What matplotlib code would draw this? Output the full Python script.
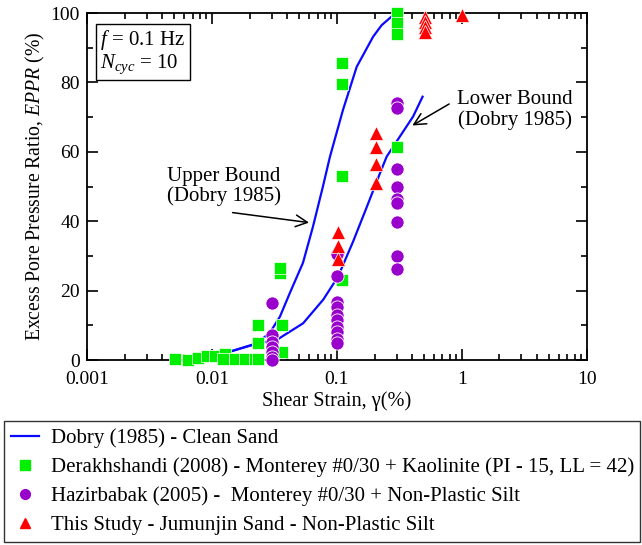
import matplotlib
matplotlib.use('Agg')
import matplotlib.pyplot as plt
from matplotlib.ticker import FixedLocator, NullFormatter, MultipleLocator
from matplotlib.lines import Line2D

plt.rcParams['font.family'] = ['Liberation Serif', 'DejaVu Serif']
plt.rcParams['mathtext.fontset'] = 'custom'
plt.rcParams['mathtext.rm'] = 'Liberation Serif'
plt.rcParams['mathtext.it'] = 'Liberation Serif:italic'
plt.rcParams['font.size'] = 14

# Dobry (1985) bounds
upper_x = [0.0139, 0.0228, 0.029, 0.035, 0.042, 0.0535, 0.0643, 0.0773, 0.088, 0.1117, 0.144, 0.195, 0.228, 0.282, 0.30]
upper_y = [2.4, 4.8, 7.8, 12.5, 19.3, 28, 38.4, 50, 58.6, 72, 84.5, 93.2, 96.5, 99.4, 100]
lower_x = [0.0139, 0.0233, 0.033, 0.0537, 0.0777, 0.102, 0.135, 0.173, 0.221, 0.25, 0.319, 0.4076, 0.485]
lower_y = [2.4, 4.8, 5.8, 10.6, 17.4, 24, 34.2, 44, 53.8, 58.6, 64.4, 70.2, 75.9]

# Derakhshandi (2008)
derak_x = [0.0051, 0.0064, 0.0077, 0.0092, 0.0106, 0.0128, 0.0123, 0.0153, 0.0184, 0.022, 0.0235,
           0.0233, 0.0233, 0.0363, 0.0363, 0.035, 0.035,
           0.109, 0.109, 0.109, 0.109, 0.304, 0.304, 0.304, 0.304]
derak_y = [0.4, 0, 0.7, 1.1, 1.1, 1.7, 0.2, 0.3, 0.3, 0.3, 0.3,
           10, 5, 10, 2.4, 25, 26.5,
           85.5, 79.5, 53, 23, 100, 97, 94, 61.5]

# Hazirbabak (2005)
hazir_x = [0.0304] * 7 + [0.101] * 10 + [0.304] * 9
hazir_y = [16.5, 7.2, 5.3, 3.8, 2.4, 1.0, 0,
           30.5, 24.3, 16.8, 15.4, 13, 11.5, 9.6, 8.2, 6.2, 4.8,
           74, 72.5, 55, 50, 46.4, 45.2, 39.9, 30, 26.1]

# This study
study_x = [0.1026] * 3 + [0.204] * 4 + [0.506] * 4 + [1.0]
study_y = [37, 33, 29, 65.5, 61.5, 56.5, 51, 99, 97.5, 96, 94.5, 99.5]

blue = '#0a0aff'
green = '#00ee00'
purple = '#9900cc'
red = '#ff0000'

fig = plt.figure(figsize=(6.42, 5.45), dpi=100)
ax = fig.add_axes([0.1355, 0.3394, 0.7785, 0.6366])

ax.plot(upper_x, upper_y, color=blue, lw=1.6, zorder=2)
ax.plot(lower_x, lower_y, color=blue, lw=1.6, zorder=2)
ax.plot(derak_x, derak_y, ls='none', marker='s', ms=8.5, color=green, mec='white', mew=0.5, clip_on=False, zorder=3)
ax.plot(hazir_x, hazir_y, ls='none', marker='o', ms=9.5, color=purple, mec='white', mew=0.6, clip_on=False, zorder=3)
ax.plot(study_x, study_y, ls='none', marker='^', ms=9.5, color=red, mec='white', mew=0.5, clip_on=False, zorder=4)

ax.set_xscale('log')
ax.set_xlim(0.001, 10)
ax.set_ylim(0, 100)
ax.xaxis.set_major_locator(FixedLocator([0.001, 0.01, 0.1, 1, 10]))
ax.set_xticklabels(['0.001', '0.01', '0.1', '1', '10'])
ax.xaxis.set_minor_formatter(NullFormatter())
ax.yaxis.set_major_locator(MultipleLocator(20))
ax.yaxis.set_minor_locator(MultipleLocator(10))
ax.tick_params(which='both', direction='in', top=True, right=True, width=1.2)
ax.tick_params(which='major', length=8, labelsize=14)
ax.tick_params(axis='x', which='major', pad=8)
ax.tick_params(axis='y', which='major', pad=5)
ax.tick_params(which='minor', length=4)
for s in ax.spines.values():
    s.set_linewidth(1.3)

ax.set_xlabel('Shear Strain, \u03b3(%)', fontsize=14.6, labelpad=2)
ax.set_ylabel('Excess Pore Pressure Ratio, $EPPR$ (%)', fontsize=14.2, labelpad=3)

ax.text(0.027, 0.958, '$f$ = 0.1 Hz\n$N_{cyc}$ = 10', transform=ax.transAxes, va='top', ha='left',
        fontsize=15, linespacing=1.05,
        bbox=dict(boxstyle='square,pad=0.2', fc='white', ec='black', lw=1))

ax.text(0.0125, 50, 'Upper Bound\n(Dobry 1985)', ha='center', va='center', fontsize=15,
        multialignment='center', linespacing=1.05)
ax.annotate('', xy=(0.063, 39.5), xytext=(0.0139, 42.6),
            arrowprops=dict(arrowstyle='->,head_length=0.6,head_width=0.3', color='black', lw=1.1))
ax.text(2.65, 72, 'Lower Bound\n(Dobry 1985)', ha='center', va='center', fontsize=15,
        multialignment='center', linespacing=1.05)
ax.annotate('', xy=(0.384, 67.2), xytext=(0.827, 74.2),
            arrowprops=dict(arrowstyle='->,head_length=0.6,head_width=0.3', color='black', lw=1.1))

handles = [
    Line2D([], [], color=blue, lw=1.6),
    Line2D([], [], ls='none', marker='s', ms=6.5, color=green),
    Line2D([], [], ls='none', marker='o', ms=7, color=purple),
    Line2D([], [], ls='none', marker='^', ms=7, color=red),
]
labels = [
    'Dobry (1985) - Clean Sand',
    'Derakhshandi (2008) - Monterey #0/30 + Kaolinite (PI - 15, LL = 42)',
    'Hazirbabak (2005) -  Monterey #0/30 + Non-Plastic Silt',
    'This Study - Jumunjin Sand - Non-Plastic Silt',
]
leg = fig.legend(handles, labels, loc='upper left', bbox_to_anchor=(4 / 642, 2 / 545, 636 / 642, 122 / 545),
                 mode='expand', fancybox=False, framealpha=1, edgecolor='#333333', fontsize=15,
                 handlelength=1.35, handletextpad=0.55, labelspacing=0.45, borderpad=0.35, borderaxespad=0)
leg.get_frame().set_linewidth(1.0)

fig.savefig('out.png', dpi=100)
